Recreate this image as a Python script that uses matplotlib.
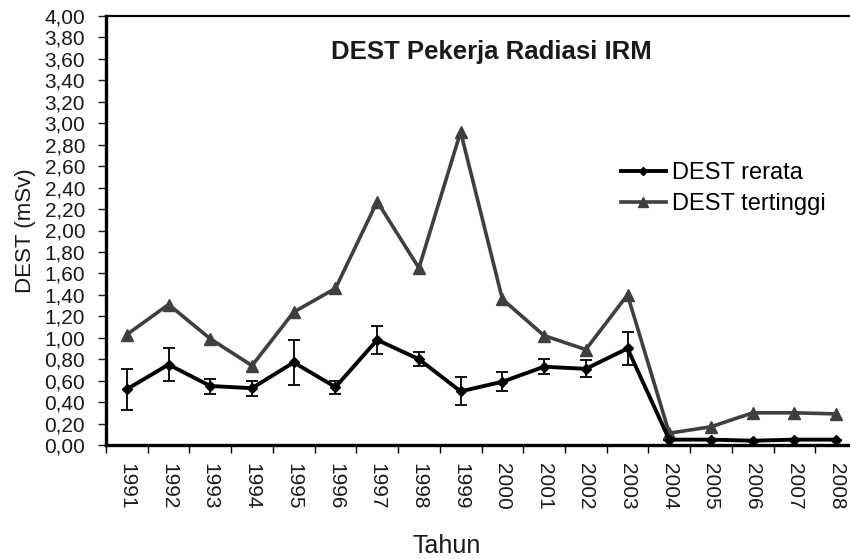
import matplotlib
matplotlib.use("Agg")
import matplotlib.pyplot as plt
import numpy as np

"""
DEST Pekerja Radiasi IRM - rerata dan tertinggi per tahun
"""

# Data
tahun = [str(t) for t in range(1991, 2009)]
dest_rerata = [0.52, 0.75, 0.55, 0.53, 0.77, 0.54, 0.98, 0.80, 0.50,
               0.59, 0.73, 0.71, 0.90, 0.05, 0.05, 0.04, 0.05, 0.05]
err_rerata = [0.19, 0.15, 0.07, 0.07, 0.21, 0.06, 0.13, 0.065, 0.13,
              0.09, 0.07, 0.08, 0.15, 0.0, 0.0, 0.0, 0.0, 0.0]
dest_tertinggi = [1.03, 1.31, 0.99, 0.74, 1.24, 1.46, 2.27, 1.65, 2.92,
                  1.36, 1.02, 0.89, 1.40, 0.11, 0.17, 0.30, 0.30, 0.29]
yticks = [i * 0.2 for i in range(21)]

plt.rcParams['font.family'] = ['Liberation Sans', 'DejaVu Sans']

W, H = 850, 559
fig = plt.figure(figsize=(W / 100, H / 100), dpi=100)
# axes runs a little past the right edge, as in the source image
ax = fig.add_axes([106 / W, 1 - 445 / H, (857 - 106) / W, (445 - 16) / H])

x = np.arange(len(tahun))

ax.plot(x, dest_tertinggi, color='#3f3f3f', lw=2.6, marker='^',
        markersize=9, label='DEST tertinggi', zorder=2)
ax.errorbar(x, dest_rerata, yerr=err_rerata, fmt='none', ecolor='#111111',
            elinewidth=1.4, capsize=4, capthick=1.4, zorder=3)
ax.plot(x, dest_rerata, color='black', lw=2.8, marker='D',
        markersize=5.5, label='DEST rerata', zorder=4)

ax.set_xlim(-0.5, len(tahun) - 0.5)
ax.set_ylim(0, 4.0)

ax.set_yticks(yticks)
ax.set_yticklabels([f"{v:.2f}".replace('.', ',') for v in yticks])
ax.set_xticks(x)
ax.set_xticklabels(tahun, rotation=-90)
ax.set_xticks(np.arange(-0.5, len(tahun)), minor=True)

ax.tick_params(axis='y', direction='out', length=6, width=1, pad=9,
               labelsize=15, colors='#1a1a1a')
ax.tick_params(axis='x', which='major', length=0, pad=13, labelsize=15,
               labelcolor='#1a1a1a')
ax.tick_params(axis='x', which='minor', direction='out', length=6, width=1)

for side in ['left', 'bottom']:
    ax.spines[side].set_linewidth(2.4)
ax.spines['top'].set_linewidth(1.6)
ax.spines['right'].set_visible(False)

ax.set_ylabel('DEST (mSv)', fontsize=16, color='#1a1a1a', labelpad=6)

fig.text(491 / W, 1 - 52 / H, 'DEST Pekerja Radiasi IRM', ha='center',
         va='center', fontsize=18.5, fontweight='bold', color='#1a1a1a')
fig.text(447 / W, 1 - 546 / H, 'Tahun', ha='center', va='center',
         fontsize=18, color='#1a1a1a')

handles, labels = ax.get_legend_handles_labels()
ax.legend(handles[::-1], labels[::-1], loc='center left',
          bbox_to_anchor=(621 / W, 1 - 188.5 / H),
          bbox_transform=fig.transFigure, frameon=False, fontsize=17,
          handlelength=1.9, handletextpad=0.25, labelspacing=0.4,
          borderpad=0, borderaxespad=0, markerscale=0.8)

fig.savefig('out.png', dpi=100)
